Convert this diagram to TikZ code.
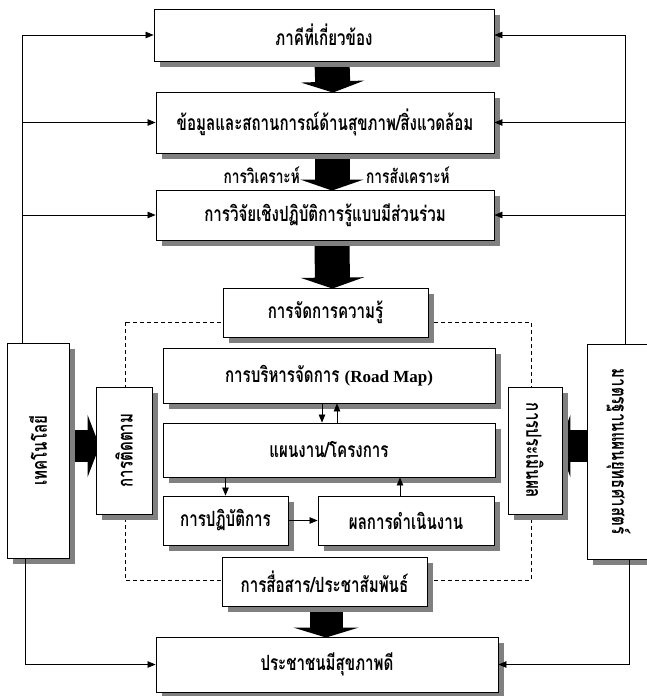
\documentclass[tikz,border=0pt]{standalone}
\usepackage{fontspec}
\setmainfont{Liberation Serif}
\newfontfamily\thai[Script=Thai,FakeStretch=0.72]{Loma}
\usetikzlibrary{shadows,arrows.meta,calc}
\pgfdeclarelayer{background}
\pgfsetlayers{background,main}
\begin{document}
\begin{tikzpicture}[x=1pt,y=-1pt,
  box/.style={draw, fill=white, line width=0.9pt, inner sep=0pt,
    drop shadow={shadow xshift=6pt, shadow yshift=-6pt, fill=black!50, opacity=1},
    font=\thai\bfseries\fontsize{21}{23}\selectfont},
  lbl/.style={inner sep=0pt, font=\thai\bfseries\fontsize{19}{21}\selectfont},
  arr/.style={line width=0.7pt, -{Triangle[length=8pt,width=6.5pt]}},
  blkv/.style={line width=35pt, -{Triangle[length=11pt,width=63pt]}},
  blkh/.style={line width=32pt, -{Triangle[length=12pt,width=62pt]}},
  dashbox/.style={line width=0.7pt, dash pattern=on 4pt off 3pt}
]
\useasboundingbox (0,0) rectangle (647,696);

% main column
\node[box, minimum width=340pt, minimum height=52pt] (b1) at (324,35) {ภาคีที่เกี่ยวข้อง};
\node[box, minimum width=338pt, minimum height=61pt] (b2) at (325,122.5) {ข้อมูลและสถานการณ์ด้านสุขภาพ/สิ่งแวดล้อม};
\node[box, minimum width=338pt, minimum height=50pt] (b3) at (325,215) {การวิจัยเชิงปฏิบัติการรู้แบบมีส่วนร่วม};
\node[box, minimum width=205pt, minimum height=49pt] (km) at (325.5,312.5) {การจัดการความรู้};
\node[box, minimum width=332pt, minimum height=55pt] (rm) at (329,375.5) {การบริหารจัดการ {\rmfamily\bfseries\fontsize{17}{19}\selectfont (Road Map)}};
\node[box, minimum width=332pt, minimum height=54pt] (plan) at (329,450) {แผนงาน/โครงการ};
\node[box, minimum width=125pt, minimum height=49pt] (prac) at (225.5,520.5) {การปฏิบัติการ};
\node[box, minimum width=176pt, minimum height=49pt] (res) at (406,520.5) {ผลการดำเนินงาน};
\node[box, minimum width=205pt, minimum height=49pt] (comm) at (324.5,581.5) {การสื่อสาร/ประชาสัมพันธ์};
\node[box, minimum width=342pt, minimum height=55pt] (people) at (327,664.5) {ประชาชนมีสุขภาพดี};

% side boxes
\node[box, minimum width=62pt, minimum height=215pt] (tech) at (38,450.5) {\rotatebox{90}{เทคโนโลยี}};
\node[box, minimum width=56pt, minimum height=127pt] (follow) at (124,450.5) {\rotatebox{90}{การติดตาม}};
\node[box, minimum width=54pt, minimum height=127pt] (eval) at (535,450.5) {\rotatebox{-90}{การประเมินผล}};
\node[box, minimum width=63pt, minimum height=215pt] (std) at (618.5,451.5) {\rotatebox{-90}{มาตรฐานแผนยุทธศาสตร์}};

% labels
\node[lbl, anchor=east] (l1) at (300,175) {การวิเคราะห์};
\node[lbl, anchor=west] (l2) at (366,175) {การสังเคราะห์};

\begin{pgfonlayer}{background}
  \draw[dashbox] (125,322) rectangle (531,580);
  \draw[blkv] ($(b1.south)+(8,0)$) -- ($(b2.north)+(8,1)$);
  \draw[blkv] ($(b2.south)+(7,0)$) -- ($(b3.north)+(7,1)$);
  \draw[blkv] ($(b3.south)+(7,0)$) -- ($(km.north)+(7,1)$);
  \draw[blkv, line width=33pt, -{Triangle[length=10pt,width=65pt]}] ($(comm.south)+(1.5,0)$) -- ($(people.north)+(-1,1)$);
  \draw[blkh] ($(tech.east)+(0,-4.5)$) -- ($(follow.west)+(4,-4.5)$);
  \draw[blkh] ($(std.west)+(0,-5.5)$) -- ($(eval.east)+(-4,-4.5)$);
\end{pgfonlayer}

% side connectors
\coordinate (lt) at ($(tech.north west)+(16,0)$);
\coordinate (lb) at ($(tech.south west)+(19,0)$);
\coordinate (rt) at ($(std.north west)+(39,0)$);
\coordinate (rb) at ($(std.south west)+(43,0)$);
\draw[arr] (lt) |- (b1.west);
\draw[arr] (lt |- b2.west) -- (b2.west);
\draw[arr] (lt |- b3.west) -- (b3.west);
\draw[arr] (lb) |- (people.west);
\draw[arr] (rt) |- (b1.east);
\draw[arr] (rt |- b2.east) -- (b2.east);
\draw[arr] (rt |- b3.east) -- (b3.east);
\draw[arr] (rb) |- (people.east);

% inner small arrows
\coordinate (rmd) at ($(rm.south)+(-7,0)$);
\coordinate (rmu) at ($(rm.south)+(8,0)$);
\coordinate (resu) at ($(res.north)+(-6,0)$);
\draw[arr] (rmd) -- (rmd |- plan.north);
\draw[arr] (rmu |- plan.north) -- (rmu);
\draw[arr] (prac.north |- plan.south) -- (prac.north);
\draw[arr] (prac.east) -- (res.west);
\draw[arr] (resu) -- (resu |- plan.south);
\end{tikzpicture}
\end{document}
